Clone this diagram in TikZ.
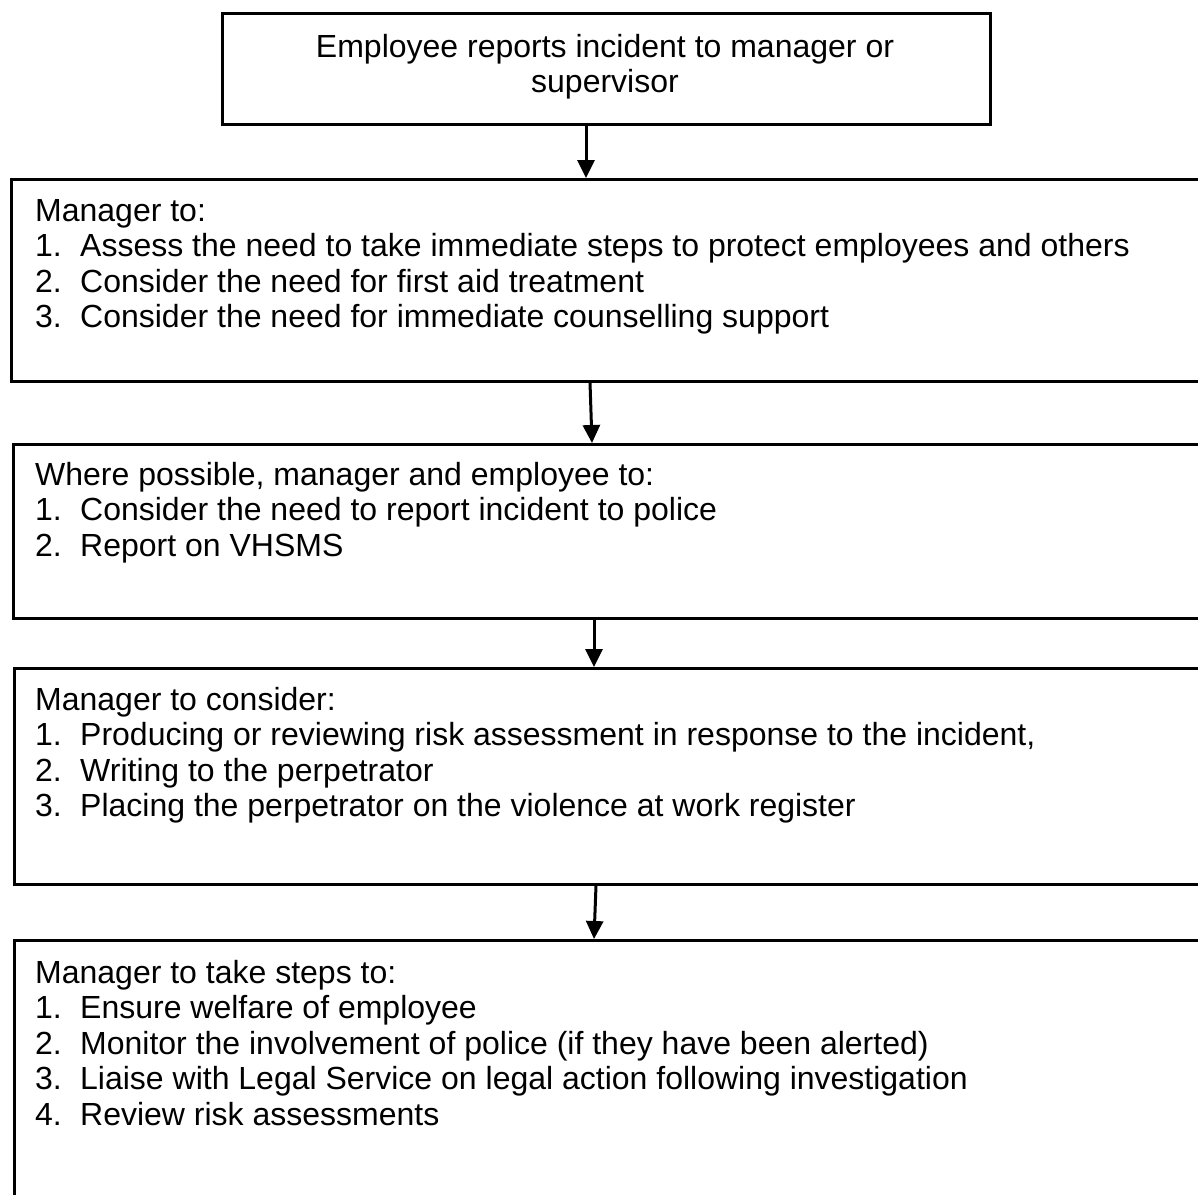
\documentclass[tikz,border=0pt]{standalone}
\usepackage{fontspec}
\setmainfont{Liberation Sans}
\usetikzlibrary{arrows.meta}
\tikzset{
  box/.style={draw=black, line width=2.5pt, anchor=north west, inner sep=0pt, minimum width=#1, fill=none},
  txt/.style={anchor=north west, inner sep=0pt, align=left, font=\fontsize{32}{35.5}\selectfont},
  ctxt/.style={anchor=north, inner sep=0pt, align=center, font=\fontsize{32}{35}\selectfont},
  arr/.style={line width=3pt, -{Triangle[length=18pt,width=17pt]}}
}
\newcommand{\itm}[1]{\makebox[45pt][l]{#1}}
\begin{document}
\begin{tikzpicture}[x=1pt,y=-1pt]
\useasboundingbox (0,0) rectangle (1198,1194);
\clip (0,0) rectangle (1198,1194);
\fill[white] (0,0) rectangle (1198,1194);
% boxes
\node[box=768pt, minimum height=111pt] (b1) at (221,12) {};
\node[box=1250pt, minimum height=202pt] (b2) at (10,178) {};
\node[box=1250pt, minimum height=174pt] (b3) at (12,443) {};
\node[box=1250pt, minimum height=216pt] (b4) at (13,667) {};
\node[box=1250pt, minimum height=300pt] (b5) at (13,939) {};
% texts
\node[ctxt] (t1) at (605,34) {Employee reports incident to manager or\\supervisor};
\node[txt] (t2) at (35,199) {Manager to:\\
\itm{1.}Assess the need to take immediate steps to protect employees and others\\
\itm{2.}Consider the need for first aid treatment\\
\itm{3.}Consider the need for immediate counselling support};
\node[txt] (t3) at (35,462) {Where possible, manager and employee to:\\
\itm{1.}Consider the need to report incident to police\\
\itm{2.}Report on VHSMS};
\node[txt] (t4) at (35,687) {Manager to consider:\\
\itm{1.}Producing or reviewing risk assessment in response to the incident,\\
\itm{2.}Writing to the perpetrator\\
\itm{3.}Placing the perpetrator on the violence at work register};
\node[txt] (t5) at (35,960) {Manager to take steps to:\\
\itm{1.}Ensure welfare of employee\\
\itm{2.}Monitor the involvement of police (if they have been alerted)\\
\itm{3.}Liaise with Legal Service on legal action following investigation\\
\itm{4.}Review risk assessments};
% arrows
\draw[arr] (586,0 |- b1.south) -- (586,0 |- b2.north);
\draw[arr] (590,0 |- b2.south) -- (592,0 |- b3.north);
\draw[arr] (594,0 |- b3.south) -- (594,0 |- b4.north);
\draw[arr] (596,0 |- b4.south) -- (594,0 |- b5.north);
\end{tikzpicture}
\end{document}
